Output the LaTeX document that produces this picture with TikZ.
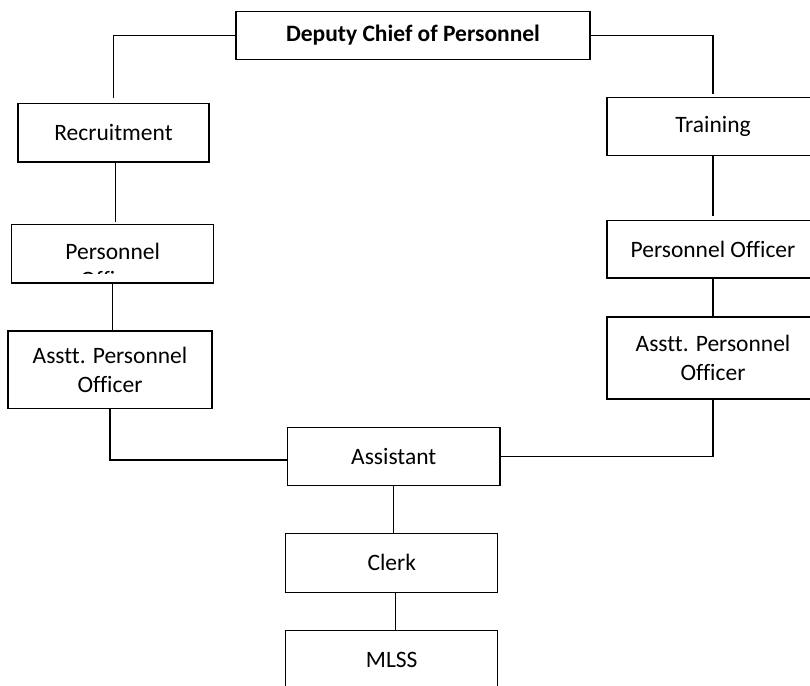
\documentclass[tikz,border=0pt]{standalone}
\usepackage{fontspec}
\setmainfont[Ligatures=NoCommon]{Carlito}
\begin{document}
\begin{tikzpicture}[x=1pt,y=1pt,
  box/.style={draw=black, line width=1.3pt, rectangle, inner sep=0pt,
    align=center, font=\fontsize{23.5}{28.5}\selectfont},
  link/.style={draw=black, line width=1.2pt},
  txt/.style={inner sep=0pt, font=\fontsize{23.5}{28.5}\selectfont}]
  % page frame; parts that run past it are cut off
  \path[use as bounding box, clip] (0,0) rectangle (810,-685);
  \fill[white] (0,0) rectangle (810,-685);

  % head of the chart
  \node[box, minimum width=354, minimum height=48.3,
        font=\fontsize{23.5}{28.5}\selectfont\bfseries] (dep) at (413,-35.5) {Deputy Chief of Personnel};

  % recruitment branch
  \node[box, minimum width=191, minimum height=58.7] (rec)  at (113.5,-132.7) {Recruitment};
  \node[box, minimum width=202, minimum height=58.7] (lpo)  at (112.7,-253.7) {};
  \node[txt] (lpoa) at (112.7,-251) {Personnel};
  \begin{scope}
    \clip (14,-224) rectangle (212,-273.5);
    \node[txt] (lpob) at (112.7,-279.5) {Officer};
  \end{scope}
  \node[box, minimum width=204, minimum height=77.3] (lapo) at (110,-369.7) {Asstt. Personnel\\Officer};

  % training branch
  \node[box, minimum width=212, minimum height=58]   (trn)  at (713,-126.7) {Training};
  \node[box, minimum width=212, minimum height=57.3] (rpo)  at (713,-249.4) {Personnel Officer};
  \node[box, minimum width=212, minimum height=82]   (rapo) at (713,-358)   {Asstt. Personnel\\Officer};

  % common staff below
  \node[box, minimum width=212.5, minimum height=58] (asst)  at (393.75,-456.3) {Assistant};
  \node[box, minimum width=212, minimum height=59]   (clerk) at (391.75,-562.8) {Clerk};
  \node[box, minimum width=212, minimum height=58]   (mlss)  at (391.75,-659.7) {MLSS};

  % connectors
  \draw[link] (dep.west) -| ([yshift=5]rec.north);
  \draw[link] (dep.east) -| ([yshift=2.7]trn.north);
  \draw[link] ([xshift=2]rec.south) -- ([xshift=2,yshift=2]rec.south |- lpo.north);
  \draw[link] (lpo.south) -- (lpo.south |- lapo.north);
  \draw[link] (lapo.south) |- ([yshift=-3.7]asst.west);
  \draw[link] (asst.east) -| (rapo.south);
  \draw[link] (trn.south) -- ([yshift=4]trn.south |- rpo.north);
  \draw[link] (rpo.south) -- (rapo.north);
  \draw[link] (asst.south) -- (asst.south |- clerk.north);
  \draw[link] ([xshift=4]clerk.south) -- ([xshift=4]clerk.south |- mlss.north);
\end{tikzpicture}
\end{document}
